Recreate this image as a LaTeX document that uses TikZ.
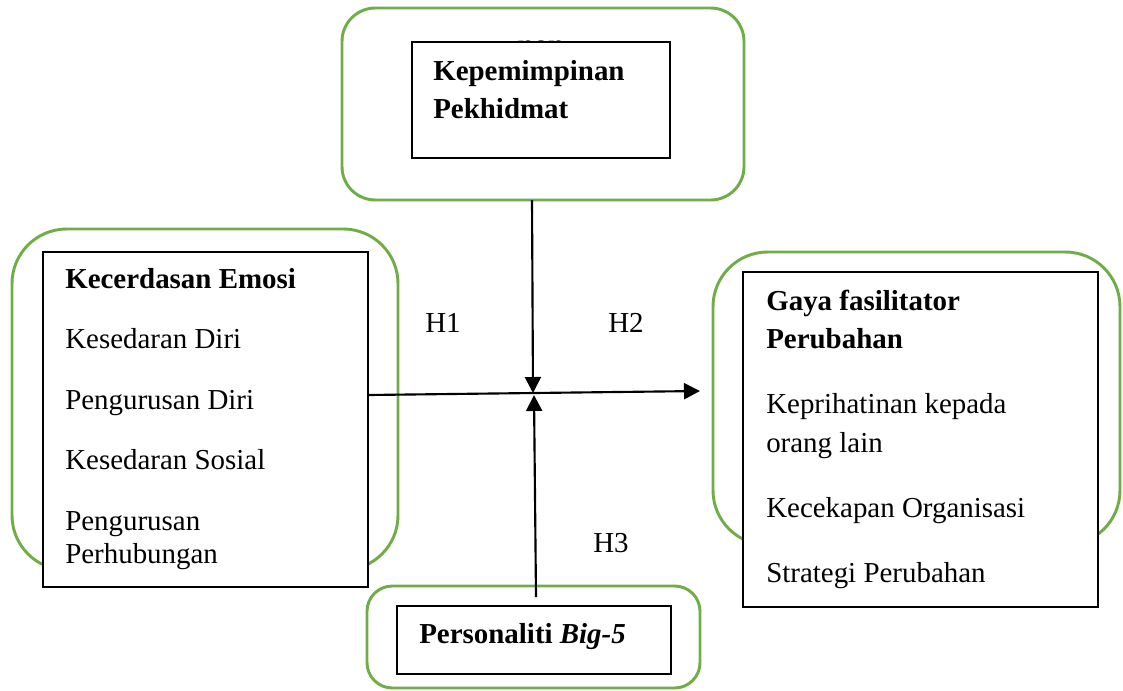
\documentclass[tikz,border=0pt]{standalone}
\usepackage{fontspec}
\setmainfont{Liberation Serif}
\usetikzlibrary{arrows.meta,fit}
\definecolor{ogreen}{RGB}{112,173,71}
\begin{document}
\begin{tikzpicture}[x=0.75pt,y=-0.75pt,
  greenbox/.style={draw=ogreen, line width=2.2pt, inner sep=0pt, fill=white},
  blackbox/.style={draw=black, line width=1.4pt, fill=white, inner sep=0pt},
  txt/.style={anchor=base west, inner sep=0pt, font=\fontsize{21.7}{26}\selectfont},
  btxt/.style={anchor=base west, inner sep=0pt, font=\fontsize{21.7}{26}\selectfont\bfseries},
  arr/.style={line width=1.6pt, -{Triangle[length=12pt,width=12pt]}},
]
\useasboundingbox (0,0) rectangle (1123,690);

% green rounded frames
\node[greenbox, rounded corners=25pt, fit={(342,8) (744,200)}] (gtop) {};
\node[greenbox, rounded corners=41pt, fit={(12,229) (398,570)}] (gleft) {};
\node[greenbox, rounded corners=41pt, fit={(713,252) (1120,545)}] (gright) {};
\node[greenbox, rounded corners=19pt, fit={(367,586) (700,688)}] (gbot) {};

% partly hidden text
\node[btxt, anchor=base] (non) at (541,54) {non};

% black boxes
\node[blackbox, fit={(412,42) (670,158)}] (kp) {};
\node[blackbox, fit={(43,252) (368,587)}] (ke) {};
\node[blackbox, fit={(743,272) (1098,607)}] (gf) {};
\node[blackbox, fit={(397,606) (671,674)}] (pb) {};

% texts
\node[btxt] (kp1) at (433,80) {Kepemimpinan};
\node[btxt] (kp2) at (433,118) {Pekhidmat};

\node[btxt] (ke0) at (65,288) {Kecerdasan Emosi};
\node[txt] (ke1) at (65,348) {Kesedaran Diri};
\node[txt] (ke2) at (65,409) {Pengurusan Diri};
\node[txt] (ke3) at (65,469) {Kesedaran Sosial};
\node[txt] (ke4) at (65,530) {Pengurusan};
\node[txt] (ke5) at (65,563) {Perhubungan};

\node[btxt] (gf0) at (766,310) {Gaya fasilitator};
\node[btxt] (gf1) at (766,348) {Perubahan};
\node[txt] (gf2) at (766,413) {Keprihatinan kepada};
\node[txt] (gf3) at (766,452) {orang lain};
\node[txt] (gf4) at (766,517) {Kecekapan Organisasi};
\node[txt] (gf5) at (766,582) {Strategi Perubahan};

\node[btxt] (pb0) at (419,643) {Personaliti \textit{Big-5}};

\node[txt] (h1) at (425,332) {H1};
\node[txt] (h2) at (608,332) {H2};
\node[txt] (h3) at (593,552) {H3};

% connectors
\coordinate (ts) at (532,200);
\coordinate (te) at (533,393);
\coordinate (bs) at (536,597);
\coordinate (be) at (534,395);
\coordinate (hs) at (368,395);
\coordinate (he) at (700,391);
\draw[arr] (ts) -- (te);
\draw[arr] (bs) -- (be);
\draw[arr] (hs) -- (he);
\end{tikzpicture}
\end{document}
